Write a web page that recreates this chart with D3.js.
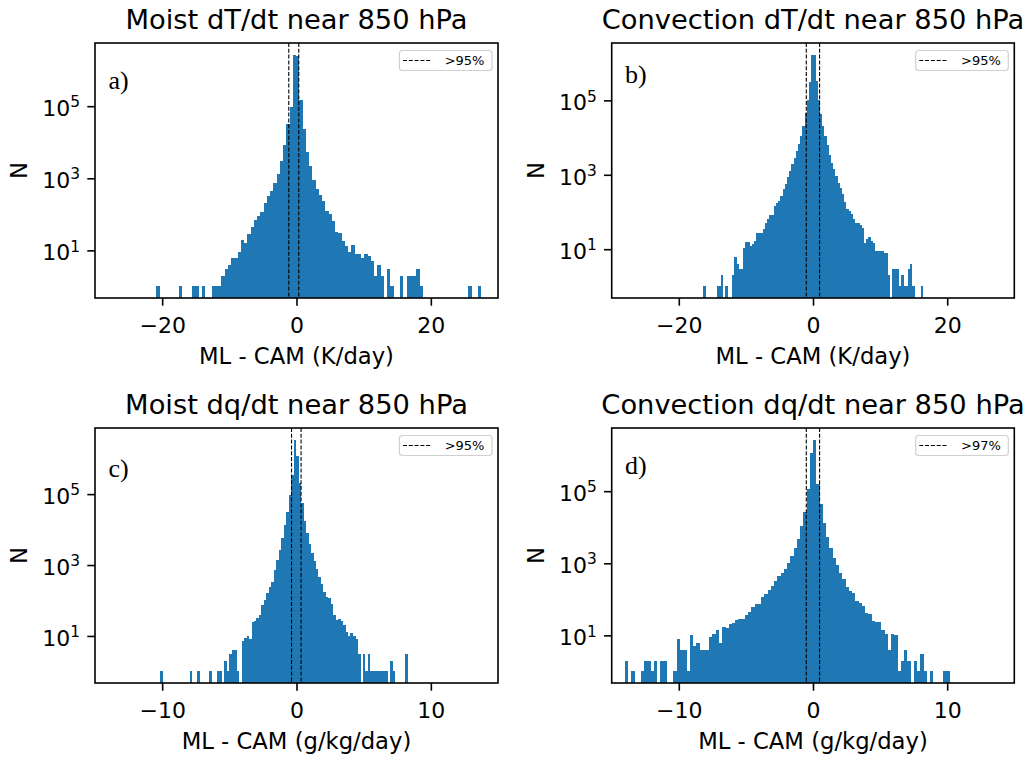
<!DOCTYPE html>
<html>
<head>
<meta charset="utf-8">
<script src="https://cdn.jsdelivr.net/npm/d3@7"></script>
<style>body{margin:0;background:#fff}</style>
</head>
<body>
<script>
'use strict';

// histogram counts, 100 equal bins per panel
const countsA = [
  1,0,0,0,0,0,0,1,0,0,
  0,1,1,0,1,0,0,1,1,1,
  2,3,4,6,6,9,19,16,29,45,
  69,89,114,208,331,455,745,1350,3100,8500,
  32000,98000,2700000,2500000,150000,24000,5400,2150,890,490,
  340,230,122,103,65,33,31,18,13,9,
  14,8,8,6,8,7,5,2,4,2,
  0,3,1,0,0,2,0,2,2,2,
  3,1,0,0,0,0,0,0,0,0,
  0,0,0,0,0,0,1,0,0,1];
const countsB = [
  1,0,0,0,0,0,1,1,2,0,
  1,0,0,2,6,4,3,3,11,16,
  16,12,14,17,28,28,28,36,52,66,
  81,81,145,170,200,270,410,550,890,1300,
  1900,2900,4300,6900,11000,21000,45000,105000,310000,1700000,
  1700000,330000,105000,42000,21000,11000,6200,3500,2100,1400,
  930,590,450,300,180,123,107,87,64,52,
  52,44,38,15,19,21,17,15,9,9,
  9,9,8,8,2,0,3,3,3,1,
  2,1,1,3,4,1,0,0,0,1];
const countsC = [
  1,0,0,0,0,0,0,0,0,0,
  0,0,1,0,0,1,0,0,0,0,
  1,0,0,1,1,0,2,1,3,4,
  4,1,0,7,9,10,8,24,26,33,
  40,74,102,158,245,338,720,1380,2650,5900,
  13500,31000,96000,350000,3450000,1170000,205000,56000,17000,7900,
  3800,2150,1300,770,470,300,176,126,118,82,
  38,28,31,26,20,13,10,12,10,8,
  3,0,3,1,3,1,1,1,1,1,
  1,1,0,2,1,0,0,0,0,3];
const countsD = [
  2,0,1,0,0,1,2,2,1,2,
  0,2,2,0,0,1,8,4,4,1,
  10,5,6,4,4,4,9,11,14,6,
  17,16,21,22,27,28,29,37,45,60,
  74,74,114,141,186,230,316,430,550,700,
  1000,1550,2700,4800,10700,26700,112000,1150000,2700000,160000,
  43000,13000,5300,2690,1400,910,540,375,215,174,
  150,88,79,64,42,39,25,23,23,14,
  11,4,11,10,1,2,4,2,0,2,
  1,3,1,0,1,0,0,0,1,1];

// first and last bin edge of each histogram
const binRanges = [[-20.88, 27.51], [-16.32, 16.41], [-10.16, 8.25], [-14.03, 10.16]];
const xDomains = [[-30, 30], [-30, 30], [-15, 15], [-15, 15]];
const xTickValues = [[-20, 0, 20], [-20, 0, 20], [-10, 0, 10], [-10, 0, 10]];
const yTickValues = [10, 1e3, 1e5];
// dashed percentile lines
const thresholds = [[-1.15, 0.34], [-1.0, 0.98], [-0.37, 0.34], [-0.5, 0.49]];
const legendLabels = ['>95%', '>95%', '>95%', '>97%'];
const titles = ['Moist dT/dt near 850 hPa', 'Convection dT/dt near 850 hPa',
                'Moist dq/dt near 850 hPa', 'Convection dq/dt near 850 hPa'];
const xLabels = ['ML - CAM (K/day)', 'ML - CAM (K/day)', 'ML - CAM (g/kg/day)', 'ML - CAM (g/kg/day)'];
const panelTags = ['a)', 'b)', 'c)', 'd)'];
const tagPos = [[-28, 3e5], [-28, 3e5], [-14, 3e5], [-14, 3e5]];

const allCounts = [countsA, countsB, countsC, countsD];

const width = 1031, height = 757;
const boxes = [
  {x0: 95, x1: 498, y0: 43, y1: 298},
  {x0: 611.7, x1: 1014.3, y0: 43, y1: 298},
  {x0: 95, x1: 498, y0: 428, y1: 683},
  {x0: 611.7, x1: 1014.3, y0: 428, y1: 683}
];
const blue = '#1f77b4';
const lw = 1.6, tickLen = 7.7;

let svg = d3.select('body').append('svg')
	.attr('width', width)
	.attr('height', height)
	.style('font-family', '"DejaVu Sans", sans-serif');

svg.append('rect').attr('width', width).attr('height', height).attr('fill', '#fff');

allCounts.forEach((counts, i) => {
	let b = boxes[i];
	let x = d3.scaleLinear().domain(xDomains[i]).range([b.x0, b.x1]);
	// matplotlib-ish log autoscale with 5% margins
	let L = Math.log10(d3.max(counts));
	let y = d3.scaleLog().domain([Math.pow(10, -0.05 * L), Math.pow(10, 1.05 * L)]).range([b.y1, b.y0]);

	let g = svg.append('g');

	let [lo, hi] = binRanges[i];
	let bw = (hi - lo) / counts.length;
	let bins = counts.map((c, k) => ({c: c, a: lo + k * bw, z: lo + (k + 1) * bw})).filter(d => d.c > 0);

	g.selectAll('rect.bar').data(bins).join('rect')
		.attr('class', 'bar')
		.attr('x', d => x(d.a))
		.attr('width', d => x(d.z) - x(d.a) + 0.2)
		.attr('y', d => y(d.c))
		.attr('height', d => b.y1 - y(d.c))
		.attr('fill', blue)
		.attr('shape-rendering', 'crispEdges');

	g.selectAll('line.thr').data(thresholds[i]).join('line')
		.attr('class', 'thr')
		.attr('x1', d => x(d)).attr('x2', d => x(d))
		.attr('y1', b.y0).attr('y2', b.y1)
		.attr('stroke', '#000')
		.attr('stroke-width', 1.1)
		.attr('stroke-dasharray', '4,1.8');

	// x axis
	let xa = g.append('g')
		.attr('transform', `translate(0,${b.y1})`)
		.call(d3.axisBottom(x).tickValues(xTickValues[i]).tickSize(tickLen).tickPadding(11.5).tickFormat(d3.format('d')));
	xa.select('.domain').remove();
	xa.selectAll('.tick line').attr('stroke', '#000').attr('stroke-width', lw);
	xa.selectAll('.tick text').attr('fill', '#000').style('font-size', '22px').style('font-family', '"DejaVu Sans"');

	// y axis with 10^n labels
	let ya = g.append('g')
		.attr('transform', `translate(${b.x0},0)`)
		.call(d3.axisLeft(y).tickValues(yTickValues).tickSize(tickLen).tickPadding(7.3).tickFormat(() => ''));
	ya.select('.domain').remove();
	ya.selectAll('.tick line').attr('stroke', '#000').attr('stroke-width', lw);
	ya.selectAll('.tick text').each(function(d) {
		let t = d3.select(this)
			.attr('fill', '#000')
			.attr('dy', '0.42em')
			.style('font-size', '22px')
			.style('font-family', '"DejaVu Sans"');
		t.append('tspan').text('10');
		t.append('tspan').attr('dy', -8.6).style('font-size', '15.4px').text(Math.round(Math.log10(d)));
	});

	// frame
	g.append('rect')
		.attr('x', b.x0).attr('y', b.y0)
		.attr('width', b.x1 - b.x0).attr('height', b.y1 - b.y0)
		.attr('fill', 'none').attr('stroke', '#000').attr('stroke-width', lw);

	// panel tag
	g.append('text')
		.attr('x', x(tagPos[i][0]))
		.attr('y', y(tagPos[i][1]))
		.style('font-family', '"Liberation Serif", serif')
		.style('font-size', '26px')
		.text(panelTags[i]);

	// legend
	let lx = b.x1 - 6 - 92.6, ly = b.y0 + 7.5;
	g.append('rect')
		.attr('x', lx).attr('y', ly).attr('width', 92.6).attr('height', 20)
		.attr('rx', 3)
		.attr('fill', '#fff').attr('fill-opacity', 0.8)
		.attr('stroke', '#d0d0d0').attr('stroke-width', 1.2);
	g.append('line')
		.attr('x1', lx + 3.6).attr('x2', lx + 32.6)
		.attr('y1', ly + 10).attr('y2', ly + 10)
		.attr('stroke', '#000').attr('stroke-width', 1.1)
		.attr('stroke-dasharray', '4,1.8');
	g.append('text')
		.attr('x', lx + 45.3).attr('y', ly + 10)
		.attr('dy', '0.35em')
		.style('font-size', '13px')
		.text(legendLabels[i]);

	// title and labels
	g.append('text')
		.attr('x', (b.x0 + b.x1) / 2).attr('y', b.y0 - 14.5)
		.attr('text-anchor', 'middle')
		.style('font-size', '27.3px')
		.text(titles[i]);
	g.append('text')
		.attr('x', (b.x0 + b.x1) / 2).attr('y', b.y1 + 66)
		.attr('text-anchor', 'middle')
		.style('font-size', '22.7px')
		.text(xLabels[i]);
	g.append('text')
		.attr('transform', `translate(${b.x0 - 68},${(b.y0 + b.y1) / 2}) rotate(-90)`)
		.attr('text-anchor', 'middle')
		.style('font-size', '22.7px')
		.text('N');
});
</script>
</body>
</html>
